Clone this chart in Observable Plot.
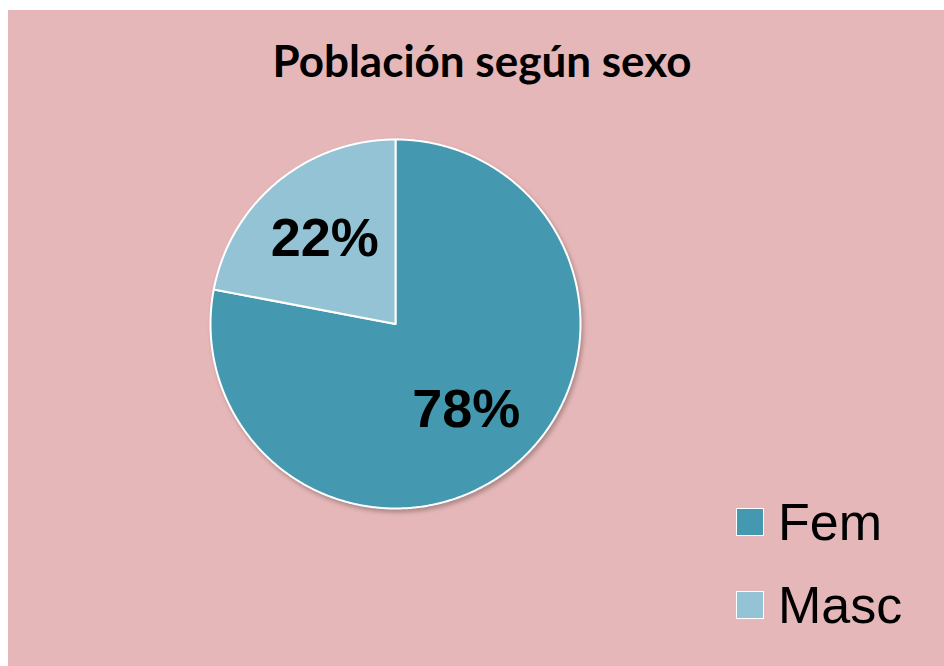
<!DOCTYPE html>
<html>
<head>
<meta charset="utf-8">
<script src="https://cdn.jsdelivr.net/npm/d3@7"></script>
<script src="https://cdn.jsdelivr.net/npm/@observablehq/plot@0.6"></script>
<style>
  html, body { margin: 0; padding: 0; background: #ffffff; }
  #wrap { position: absolute; left: 8px; top: 10px; width: 936px; height: 656px; background: #E6B7B8; overflow: hidden; }
  #title { position: absolute; left: 0; top: 28px; width: 936px; padding-left: 12px; box-sizing: border-box; text-align: center;
           font-family: Lato, "Open Sans", sans-serif; font-weight: 700; font-size: 44px; color: #000; line-height: 1; }
  #chart { position: absolute; left: 0; top: 0; }
  .leg { position: absolute; left: 728px; font-family: "Liberation Sans", Arial, sans-serif; font-size: 52px; color: #000; line-height: 1; display: flex; align-items: center; }
  .leg .sw { width: 26px; height: 26px; border: 1px solid #fff; margin-right: 14px; box-sizing: content-box; }
</style>
</head>
<body>
<div id="wrap">
  <div id="chart"></div>
  <div id="title">Población según sexo</div>
  <div id="legend"></div>
</div>
<script>
const categories = ["Fem", "Masc"];
const values = [78, 22];
const colors = ["#4498B0", "#93C3D4"];
const title = "Población según sexo";

const pie = d3.pie().sort(null).value(d => d)(values);

// wedge outlines computed from the pie layout (unit circle, y up)
const wedgePoints = [];
pie.forEach((p, i) => {
  const name = categories[i];
  wedgePoints.push({name, x: 0, y: 0});
  const n = Math.max(2, Math.ceil((p.endAngle - p.startAngle) / (Math.PI / 360)));
  for (let k = 0; k <= n; k++) {
    const a = p.startAngle + (p.endAngle - p.startAngle) * k / n;
    wedgePoints.push({name, x: Math.sin(a), y: Math.cos(a)});
  }
});

const labelR = 0.6;
const labels = pie.map((p, i) => {
  const a = (p.startAngle + p.endAngle) / 2;
  return {name: categories[i], x: labelR * Math.sin(a), y: labelR * Math.cos(a), text: values[i] + "%"};
});

const svg = Plot.plot({
  width: 936,
  height: 656,
  margin: 0,
  style: {background: "transparent", fontFamily: "Liberation Sans, Arial, sans-serif"},
  x: {domain: [-1, 1], range: [202, 572], axis: null},
  y: {domain: [-1, 1], range: [498, 129], axis: null},
  color: {domain: categories, range: colors},
  marks: [
    Plot.line(wedgePoints, {x: "x", y: "y", z: "name", fill: "name", stroke: "#ffffff", strokeWidth: 2, curve: "linear-closed", strokeLinejoin: "round"}),
    Plot.text(labels, {x: "x", y: "y", text: "text", fontSize: 54, fontWeight: "bold", fill: "#000000"})
  ]
});
d3.select(svg).select('g[aria-label="line"]').style("filter", "drop-shadow(2px 3px 2px rgba(0,0,0,0.25))");
document.getElementById("chart").appendChild(svg);

const legend = document.getElementById("legend");
const legTops = [486, 569];
categories.forEach((c, i) => {
  const row = document.createElement("div");
  row.className = "leg";
  row.style.top = legTops[i] + "px";
  const sw = document.createElement("div");
  sw.className = "sw";
  sw.style.background = colors[i];
  const t = document.createElement("span");
  t.textContent = c;
  row.appendChild(sw);
  row.appendChild(t);
  legend.appendChild(row);
});
</script>
</body>
</html>
